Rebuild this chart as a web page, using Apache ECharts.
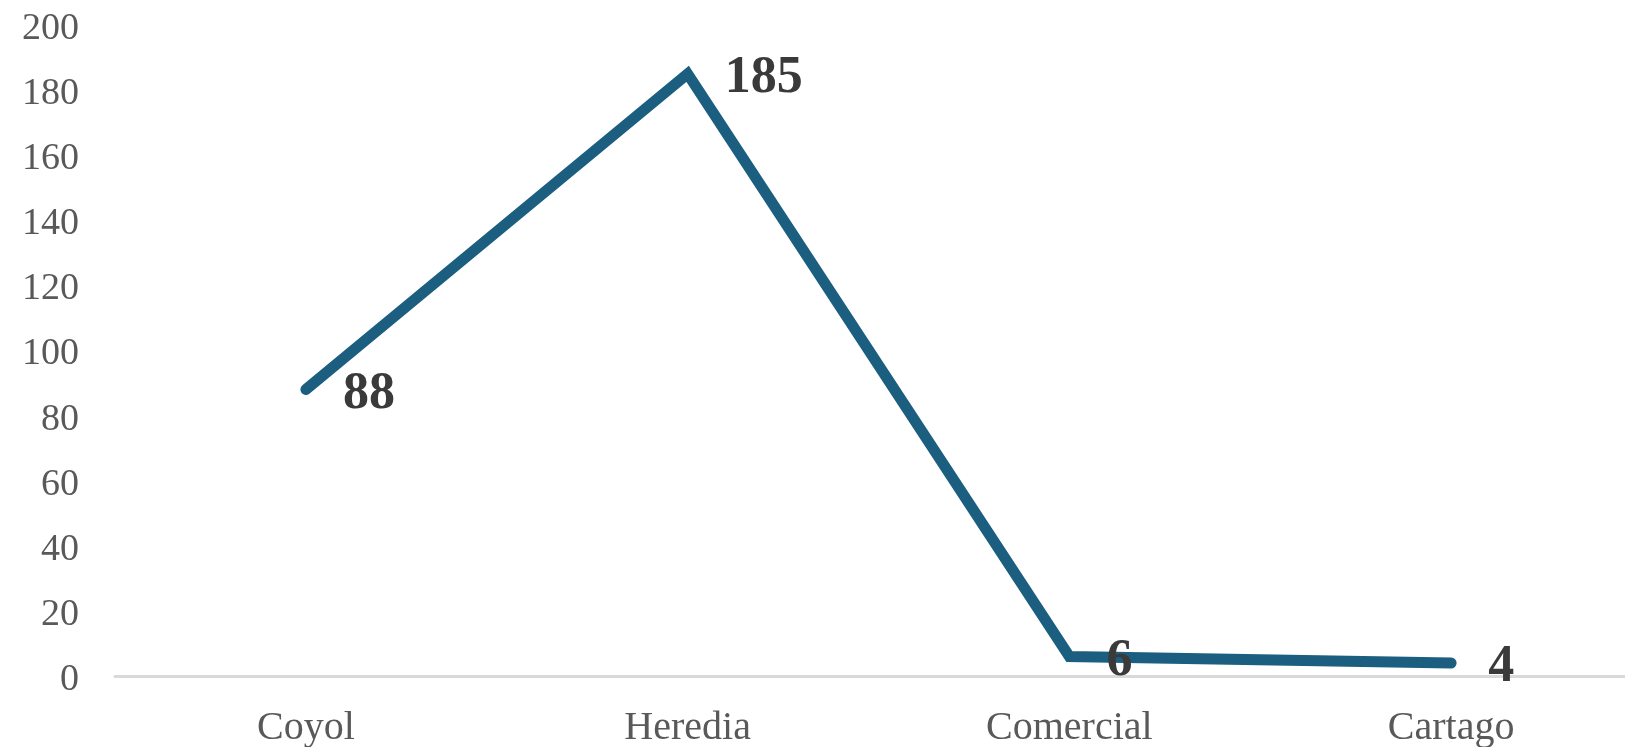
<!DOCTYPE html>
<html>
<head>
<meta charset="utf-8">
<script src="https://cdn.jsdelivr.net/npm/echarts@6/dist/echarts.min.js"></script>
<style>
html,body{margin:0;padding:0;background:#fff;}
#chart{width:1625px;height:747px;}
</style>
</head>
<body>
<div id="chart"></div>
<script>
const categories = ['Coyol', 'Heredia', 'Comercial', 'Cartago'];
const values = [88, 185, 6, 4];
const yTicks = [0, 20, 40, 60, 80, 100, 120, 140, 160, 180, 200];

const chart = echarts.init(document.getElementById('chart'));
chart.setOption({
  animation: false,
  grid: { left: 115, right: -17, top: 25, bottom: 71, outerBoundsMode: 'none', containLabel: false },
  xAxis: {
    type: 'category',
    data: categories,
    boundaryGap: true,
    axisLine: { show: true, lineStyle: { color: '#d9d9d9', width: 3 } },
    axisTick: { show: false },
    axisLabel: {
      color: '#595959',
      fontFamily: 'Liberation Serif',
      fontSize: 40,
      margin: 32
    }
  },
  yAxis: {
    type: 'value',
    min: yTicks[0],
    max: yTicks[yTicks.length - 1],
    interval: 20,
    axisLine: { show: false },
    axisTick: { show: false },
    splitLine: { show: false },
    axisLabel: {
      color: '#595959',
      fontFamily: 'Liberation Serif',
      fontSize: 38,
      margin: 36,
      verticalAlign: 'top',
      lineHeight: 8
    }
  },
  series: [{
    type: 'line',
    data: values,
    symbol: 'circle',
    symbolSize: 2,
    showSymbol: true,
    itemStyle: { color: 'rgba(0,0,0,0)' },
    lineStyle: { color: '#1b5e7f', width: 11, cap: 'round', join: 'miter' },
    label: {
      show: true,
      position: 'right',
      distance: 36,
      offset: [0, 5],
      color: '#3a3a3a',
      fontFamily: 'Liberation Serif',
      fontWeight: 'bold',
      fontSize: 52
    }
  }]
});
</script>
</body>
</html>
